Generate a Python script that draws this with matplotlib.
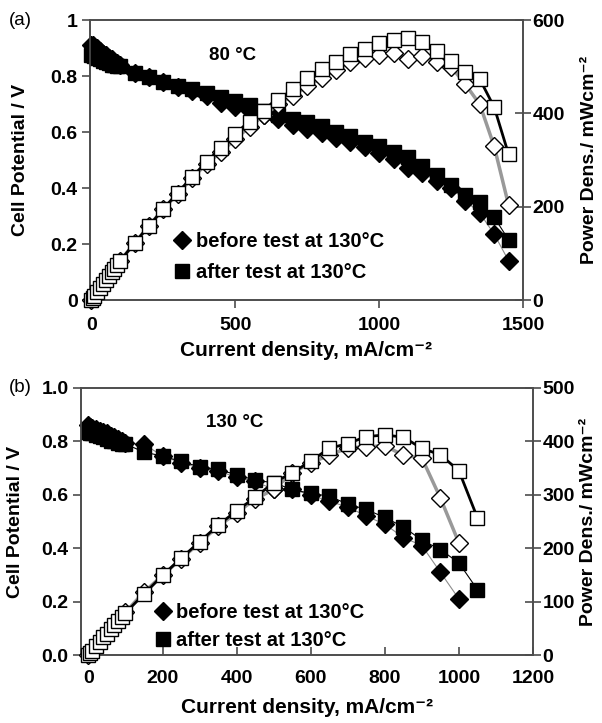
import matplotlib
matplotlib.use("Agg")
import matplotlib.pyplot as plt
from matplotlib.lines import Line2D

plt.rcParams['font.family'] = ['Liberation Sans', 'DejaVu Sans']
plt.rcParams['font.weight'] = 'bold'
plt.rcParams['axes.labelweight'] = 'bold'

# ---------------- panel (a) : 80 C ----------------
ia = [0, 5, 10, 20, 30, 40, 50, 60, 70, 80, 90, 100, 150, 200, 250, 300, 350, 400,
      450, 500, 550, 600, 650, 700, 750, 800, 850, 900, 950, 1000, 1050, 1100, 1150,
      1200, 1250, 1300, 1350, 1400, 1450]
va_before = [0.91, 0.91, 0.905, 0.90, 0.89, 0.88, 0.875, 0.865, 0.86, 0.85, 0.845, 0.84,
             0.81, 0.795, 0.78, 0.76, 0.745, 0.73, 0.705, 0.69, 0.675, 0.66, 0.645, 0.625,
             0.61, 0.595, 0.58, 0.565, 0.545, 0.525, 0.505, 0.47, 0.455, 0.425, 0.40,
             0.355, 0.31, 0.235, 0.14]
va_after = [0.875, 0.875, 0.87, 0.865, 0.86, 0.855, 0.85, 0.845, 0.84, 0.84, 0.835, 0.835,
            0.81, 0.795, 0.78, 0.765, 0.755, 0.74, 0.725, 0.71, 0.695, 0.675, 0.66, 0.645,
            0.635, 0.62, 0.60, 0.585, 0.565, 0.55, 0.53, 0.51, 0.48, 0.445, 0.41, 0.375,
            0.35, 0.295, 0.215]
pa_before = [0, 4.5, 9, 18, 27, 35, 44, 52, 60, 68, 76, 84, 122, 159, 195, 228, 261, 292,
             317, 345, 371, 396, 419, 438, 458, 476, 493, 509, 518, 525, 530, 517, 523,
             510, 500, 462, 419, 329, 203]
pa_after = [0, 4.4, 8.7, 17, 26, 34, 43, 51, 59, 67, 75, 84, 122, 159, 195, 230, 264, 296,
            326, 355, 382, 405, 429, 452, 476, 496, 510, 527, 537, 550, 557, 561, 552,
            534, 513, 488, 473, 413, 312]

# ---------------- panel (b) : 130 C ----------------
ib_before = [0, 5, 10, 20, 30, 40, 50, 60, 70, 80, 90, 100, 150, 200, 250, 300, 350, 400,
             450, 500, 550, 600, 650, 700, 750, 800, 850, 900, 950, 1000]
vb_before = [0.86, 0.855, 0.85, 0.845, 0.84, 0.835, 0.83, 0.82, 0.815, 0.81, 0.80, 0.795,
             0.79, 0.745, 0.72, 0.70, 0.69, 0.665, 0.65, 0.62, 0.62, 0.60, 0.575, 0.555,
             0.52, 0.49, 0.44, 0.41, 0.31, 0.21]
pb_before = [0, 4.3, 8.5, 17, 25, 33, 42, 49, 57, 65, 72, 80, 118, 149, 180, 210, 241, 266,
             292, 310, 341, 360, 374, 388, 390, 392, 374, 369, 294, 210]
ib_after = [0, 5, 10, 20, 30, 40, 50, 60, 70, 80, 90, 100, 150, 200, 250, 300, 350, 400,
            450, 500, 550, 600, 650, 700, 750, 800, 850, 900, 950, 1000, 1050]
vb_after = [0.835, 0.83, 0.83, 0.825, 0.82, 0.815, 0.81, 0.80, 0.80, 0.795, 0.79, 0.79,
            0.76, 0.745, 0.725, 0.705, 0.695, 0.675, 0.655, 0.645, 0.62, 0.605, 0.595,
            0.565, 0.545, 0.515, 0.48, 0.43, 0.395, 0.345, 0.245]
pb_after = [0, 4.2, 8.3, 16.5, 25, 33, 40, 48, 56, 64, 71, 79, 114, 149, 181, 212, 243,
            270, 295, 323, 341, 363, 387, 396, 409, 412, 408, 387, 375, 345, 257]

legend_labels = ["before test at 130\u00b0C", "after test at 130\u00b0C"]
xlabel = "Current density, mA/cm\u207b\u00b2"
ylabel_l = "Cell Potential / V"
ylabel_r = "Power Dens./ mWcm\u207b\u00b2"

TICK_FS = 14
XLAB_FS = 15
YLAB_FS = 14
LEG_FS = 14.5
MS = 10.5

fig = plt.figure(figsize=(6.02, 7.23), dpi=100)


def panel(rect, i_bef, v_bef, p_bef, i_aft, v_aft, p_aft, xlim, pmax, pstep, temp,
          temp_xy, tag, tag_x, leg_anchor, leg_space, xticks, ylabfmt, bottom_dir,
          xpad, xlabpad, ylab_x, ylab2_x):
    ax = fig.add_axes(rect)
    ax2 = ax.twinx()
    # polarisation curves (filled)
    ax.plot(i_bef, v_bef, color='0.55', lw=0.8, marker='D', ms=MS - 1.5, mfc='black',
            mec='black', clip_on=False, zorder=3)
    ax.plot(i_aft, v_aft, color='black', lw=0.8, marker='s', ms=MS, mfc='black',
            mec='black', clip_on=False, zorder=3)
    # power curves (open)
    ax2.plot(i_bef, p_bef, color='0.6', lw=2.5, zorder=2)
    ax2.plot(i_aft, p_aft, color='black', lw=2.0, zorder=2)
    ax2.plot(i_bef, p_bef, ls='none', marker='D', ms=MS - 1.5, mfc='white', mec='black',
             mew=1.0, clip_on=False, zorder=3)
    ax2.plot(i_aft, p_aft, ls='none', marker='s', ms=MS, mfc='white', mec='black',
             mew=1.0, clip_on=False, zorder=3)

    ax.set_xlim(*xlim)
    ax.set_ylim(0, 1)
    ax2.set_ylim(0, pmax)
    ax.set_xticks(xticks)
    yt = [0, 0.2, 0.4, 0.6, 0.8, 1.0]
    ax.set_yticks(yt)
    ax.set_yticklabels([ylabfmt(v) for v in yt])
    ax2.set_yticks(range(0, pmax + 1, pstep))

    for a in (ax, ax2):
        for s in a.spines.values():
            s.set_color('0.3')
            s.set_linewidth(1.2)
    ax.tick_params(axis='y', direction='out', length=6, width=1.2, color='0.3',
                   labelsize=TICK_FS, pad=3)
    ax.tick_params(axis='x', direction=bottom_dir, length=6, width=1.2, color='0.3',
                   labelsize=TICK_FS, pad=xpad)
    ax2.tick_params(axis='y', direction='inout', length=12, width=1.2, color='0.3',
                    labelsize=TICK_FS, pad=1)
    for lab in ax.get_xticklabels() + ax.get_yticklabels() + ax2.get_yticklabels():
        lab.set_fontweight('bold')

    ax.set_xlabel(xlabel, fontsize=XLAB_FS, fontweight='bold', labelpad=xlabpad)
    ax.set_ylabel(ylabel_l, fontsize=YLAB_FS, fontweight='bold')
    ax2.set_ylabel(ylabel_r, fontsize=YLAB_FS, fontweight='bold')
    ax.yaxis.set_label_coords(ylab_x, 0.5)
    ax2.yaxis.set_label_coords(ylab2_x, 0.5)

    ax.text(temp_xy[0], temp_xy[1], temp, fontsize=13.5, fontweight='bold',
            ha='center', va='center', transform=ax.transAxes)
    ax.text(tag_x, 1.0, tag, fontsize=13.5, fontweight='normal',
            ha='center', va='center', transform=ax.transAxes)

    handles = [Line2D([], [], ls='none', marker='D', ms=MS - 1.5, color='black'),
               Line2D([], [], ls='none', marker='s', ms=MS, color='black')]
    leg = ax.legend(handles, legend_labels, loc='center left', bbox_to_anchor=leg_anchor,
                    frameon=False, handlelength=0.8, handletextpad=0.25,
                    labelspacing=leg_space, borderpad=0, borderaxespad=0,
                    prop={'size': LEG_FS, 'weight': 'bold'})
    leg.set_zorder(5)
    return ax, ax2


panel([90 / 602, 1 - 300 / 723, 433 / 602, 280 / 723],
      ia, va_before, pa_before, ia, va_after, pa_after,
      (-5, 1500), 600, 200, "80 \u00b0C", (0.33, 0.875), "(a)", -0.16,
      (0.195, 0.155), 0.6, [0, 500, 1000, 1500], lambda v: "%g" % v, 'out',
      6, 5, -0.14, 1.135)

panel([81 / 602, 1 - 655 / 723, 452 / 602, 267 / 723],
      ib_before, vb_before, pb_before, ib_after, vb_after, pb_after,
      (-20, 1200), 500, 100, "130 \u00b0C", (0.34, 0.87), "(b)", -0.135,
      (0.163, 0.105), 0.45, [0, 200, 400, 600, 800, 1000, 1200], lambda v: "%.1f" % v,
      'in', 11, 8, -0.125, 1.105)

fig.savefig("out.png", dpi=100)
